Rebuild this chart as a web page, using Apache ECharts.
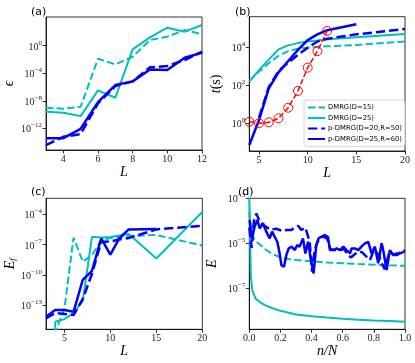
<!DOCTYPE html>
<html>
<head>
<meta charset="utf-8">
<script src="https://cdn.jsdelivr.net/npm/echarts@6.0.0/dist/echarts.min.js"></script>
<style>
  html, body { margin: 0; padding: 0; background: #fff; }
  #chart { width: 415px; height: 363px; }
</style>
</head>
<body>
<div id="chart"></div>
<script>
// ---- (a) error vs L ----
const sizesA = [3, 4, 5, 6, 7, 8, 9, 10, 11, 12]
const epsD15 = [1.0e-9, 6.9e-10, 1.35e-9, 1.29e-2, 1.95e-3, 2.5e-2, 6.8, 20.4, 190, 46]
const epsD25 = [2.5e-10, 1.8e-10, 5.9e-11, 3.2e-7, 2.75e-8, 0.295, 16.6, 417, 110, 1020]
const epsP20 = [3.6e-15, 5.9e-14, 1.45e-13, 4.2e-9, 1.38e-6, 6.6e-6, 7.2e-4, 1.12e-3, 8.3e-3, 0.135]
const epsP25 = [3.7e-14, 3.7e-14, 8.5e-13, 6.5e-9, 1.9e-6, 6.6e-6, 3.6e-4, 2.95e-4, 1.8e-2, 9.5e-2]

// ---- (b) time vs L ----
const sizesB = [4, 5, 6, 7, 8, 9, 10, 11, 12, 15, 20]
const tD15 = [170, 525, 1445, 3550, 6300, 8500, 9550, 10500, 11200, 13200, 20000]
const tD25 = [155, 630, 2240, 7760, 12600, 16600, 20000, 22900, 26300, 33900, 50100]
const sizesP20 = [5, 6, 7, 8, 9, 10, 11, 12, 15, 20]
const tP20 = [2.0, 79, 560, 1580, 3980, 9550, 20000, 28200, 47900, 91200]
const sizesP25 = [4, 5, 6, 7, 8, 9, 10, 11, 12, 15]
const tP25 = [0.072, 1.48, 69, 479, 1905, 7240, 24000, 47900, 79400, 162000]
const sizesRed = [4, 5, 6, 7, 8, 9, 10, 11, 12]
const tRed = [1.2, 1.0, 1.12, 1.82, 6.6, 50, 850, 6300, 72400]

// ---- (c) fidelity error vs L ----
const sizesC = [3, 4, 5, 6, 7, 8, 9, 10, 11, 12, 15, 20]
const efD15 = [0, 2e-16, 4.0e-14, 5.0e-7, 2.0e-9, 8.9e-9, 2.5e-7, 4.5e-7, 5.6e-7, 7.1e-7, 8.9e-7, 7.9e-8]
const efD25 = [0, 2.2e-15, 4.0e-15, 1.6e-14, 2.5e-13, 5.8e-7, 5.0e-7, 5.6e-7, 7.9e-7, 1.12e-6, 4.1e-9, 1.7e-4]
const efP20 = [4.7e-15, 1.6e-14, 1.26e-14, 1.0e-14, 4.0e-13, 1.26e-10, 1.8e-7, 2.0e-7, 3.2e-7, 4.5e-7, 3.2e-6, 7.1e-6]
const sizesCP25 = [3, 4, 5, 6, 7, 8, 9, 10, 11, 12, 15]
const efP25 = [6.8e-15, 3.2e-14, 3.2e-14, 2.1e-14, 3.2e-11, 2.5e-10, 4.0e-7, 1.0e-8, 4.5e-7, 3.2e-6, 3.5e-6]

// ---- (d) E vs n/N ----
const nD25 = [0, 0.01, 0.02, 0.04, 0.07, 0.1, 0.15, 0.2, 0.3, 0.4, 0.5, 0.6, 0.7, 0.8, 0.9, 1.0]
const eD25 = [1.6e-3, 3.2e-7, 7.9e-8, 3.5e-8, 2.4e-8, 1.8e-8, 1.3e-8, 1.0e-8, 6.9e-9, 5.8e-9, 5.0e-9, 4.4e-9, 4.0e-9, 3.7e-9, 3.5e-9, 3.3e-9]
const nD15 = [0, 0.01, 0.03, 0.05, 0.1, 0.15, 0.2, 0.25, 0.3, 0.4, 0.5, 0.6, 0.7, 0.8, 0.9, 1.0]
const eD15 = [2.5e-4, 4.0e-5, 1.6e-5, 1.12e-5, 5.6e-6, 3.3e-6, 2.4e-6, 2.0e-6, 1.8e-6, 1.6e-6, 1.4e-6, 1.3e-6, 1.2e-6, 1.12e-6, 1.05e-6, 1.0e-6]
const nP25 = [0.002, 0.017, 0.034, 0.052, 0.067, 0.088, 0.109, 0.131, 0.146, 0.163, 0.18, 0.195, 0.206, 0.223, 0.238, 0.253, 0.274, 0.291, 0.308, 0.323, 0.345, 0.36, 0.377, 0.398, 0.413, 0.43, 0.445, 0.462, 0.484, 0.505, 0.518, 0.54, 0.561, 0.582, 0.604, 0.625, 0.647, 0.657, 0.678, 0.70, 0.72, 0.743, 0.764, 0.785, 0.807, 0.828, 0.85, 0.86, 0.882, 0.903, 0.925, 0.946, 0.968, 0.996]
const eP25 = [1.1e-4, 1.66e-5, 5.5e-5, 1.1e-4, 4.6e-5, 7.8e-5, 3.3e-5, 1.66e-5, 3.3e-5, 1.95e-5, 1.17e-5, 3.5e-6, 1.07e-6, 9.1e-7, 3.0e-6, 6.0e-6, 7.1e-6, 5.0e-6, 8.3e-6, 7.1e-6, 1.66e-5, 3.5e-6, 1.17e-5, 1.5e-6, 4.6e-7, 8.3e-6, 1.66e-5, 1.95e-5, 2.3e-5, 1.95e-5, 5.0e-6, 5.0e-6, 5.9e-6, 5.0e-6, 7.1e-6, 5.0e-6, 3.6e-6, 5.9e-6, 5.9e-6, 5.0e-6, 7.1e-6, 1.0e-5, 1.17e-5, 3.6e-6, 7.1e-6, 1.3e-6, 1.0e-5, 5.0e-6, 6.5e-7, 5.0e-6, 3.0e-6, 3.0e-6, 3.6e-6, 4.3e-6]
const nP20 = [0.0, 0.015, 0.03, 0.045, 0.065, 0.088, 0.115, 0.141, 0.17, 0.195, 0.22, 0.238, 0.27, 0.29, 0.313, 0.334, 0.36, 0.388, 0.403, 0.42, 0.44, 0.46, 0.48, 0.50, 0.52, 0.55, 0.58, 0.61, 0.635, 0.655, 0.675, 0.70, 0.725, 0.754, 0.775, 0.80, 0.83, 0.85, 0.87, 0.90, 0.925, 0.95, 0.975, 1.0]
const eP20 = [5.0e-5, 6.3e-6, 1.0e-4, 2.1e-4, 1.0e-4, 6.5e-5, 5.0e-5, 3.9e-5, 4.5e-5, 3.9e-5, 3.5e-5, 3.9e-5, 3.9e-5, 5.0e-5, 6.0e-5, 3.9e-5, 5.0e-5, 1.17e-5, 5.5e-7, 5.0e-6, 1.26e-5, 1.6e-5, 2.0e-5, 1.6e-5, 5.6e-6, 5.0e-6, 5.0e-6, 5.6e-6, 2.8e-6, 2.4e-6, 3.2e-6, 4.3e-6, 4.0e-6, 2.5e-6, 1.8e-6, 5.0e-6, 3.2e-6, 1.3e-6, 7.1e-7, 4.0e-6, 3.2e-6, 3.5e-6, 4.0e-6, 5.0e-6]

const names = ['DMRG(D=15)', 'DMRG(D=25)', 'p-DMRG(D=20,R=50)', 'p-DMRG(D=25,R=60)']
const CYAN = '#00bfbf'
const BLUE = '#0000ff'
const RED = '#ff0000'

// log axes are drawn as value axes over log10, zero is clipped far below like matplotlib does
const lg = v => (v > 0 ? Math.log10(v) : -300)
const sup = v => (v < 0 ? '\u2212' + (-v) : String(v))

const chart = echarts.init(document.getElementById('chart'), null, { renderer: 'canvas' })

const grids = [
  { left: 46, top: 17, width: 156, height: 133 },
  { left: 249.3, top: 16.7, width: 155.7, height: 134.3 },
  { left: 46, top: 198.3, width: 156.3, height: 131 },
  { left: 249.3, top: 198.3, width: 155.7, height: 131 }
].map(g => ({ ...g, show: true, borderColor: '#000', borderWidth: 0.8, backgroundColor: 'transparent' }))

const tickFont = { fontFamily: 'Liberation Serif', fontSize: 10, color: '#222' }
const nameFont = { fontFamily: 'Liberation Serif', fontStyle: 'italic', fontSize: 14, color: '#000' }

function xAxis(idx, min, max, ticks, fmt, name, gap) {
  return {
    type: 'value', gridIndex: idx, min, max,
    name, nameLocation: 'middle', nameGap: gap, nameTextStyle: nameFont,
    splitLine: { show: false },
    axisLine: { show: true, onZero: false, lineStyle: { color: '#000', width: 0.8 } },
    axisTick: { show: true, length: 3.5, customValues: ticks, lineStyle: { color: '#000', width: 0.8 } },
    axisLabel: { ...tickFont, margin: 4, customValues: ticks, formatter: fmt }
  }
}

function yAxis(idx, min, max, ticks, name, gap, rich) {
  return {
    type: 'value', gridIndex: idx, min, max,
    name, nameLocation: 'middle', nameGap: gap,
    nameTextStyle: rich ? { ...nameFont, rich } : nameFont,
    splitLine: { show: false },
    axisLine: { show: true, onZero: false, lineStyle: { color: '#000', width: 0.8 } },
    axisTick: { show: true, length: 3.5, customValues: ticks, lineStyle: { color: '#000', width: 0.8 } },
    axisLabel: {
      margin: 4,
      customValues: ticks,
      formatter: v => '{b|10}{s|' + sup(v) + '}',
      rich: {
        b: { fontFamily: 'Liberation Serif', fontSize: 10, color: '#222', lineHeight: 13, verticalAlign: 'bottom' },
        s: { fontFamily: 'Liberation Serif', fontSize: 7, color: '#222', verticalAlign: 'top' }
      }
    }
  }
}

function line(name, idx, xs, ys, color, dashed, width) {
  return {
    name, type: 'line', xAxisIndex: idx, yAxisIndex: idx,
    data: xs.map((x, i) => [x, lg(ys[i])]),
    symbol: 'none', clip: true, animation: false,
    lineStyle: { color, width, type: dashed ? [width * 3.7, width * 1.6] : 'solid' },
    itemStyle: { color },
    emphasis: { disabled: true }
  }
}

function quad(idx, s15, s25, s20, s25b) {
  return [
    line(names[0], idx, s15[0], s15[1], CYAN, true, 2),
    line(names[1], idx, s25[0], s25[1], CYAN, false, 2),
    line(names[2], idx, s20[0], s20[1], BLUE, true, 2.5),
    line(names[3], idx, s25b[0], s25b[1], BLUE, false, 2.5)
  ]
}

const intFmt = v => String(v)
const upright = { fontFamily: 'Liberation Serif', fontStyle: 'normal', fontSize: 14 }
const italic = { fontFamily: 'Liberation Serif', fontStyle: 'italic', fontSize: 14 }

const option = {
  animation: false,
  title: [
    { text: '(a)', left: 26, top: 2 },
    { text: '(b)', left: 230, top: 2 },
    { text: '(c)', left: 26, top: 182 },
    { text: '(d)', left: 233, top: 182 }
  ].map(t => ({ ...t, textStyle: { fontFamily: 'DejaVu Sans', fontSize: 11, fontWeight: 'normal', color: '#000' } })),
  grid: grids,
  legend: {
    data: names,
    orient: 'vertical',
    right: 10, top: 100,
    itemWidth: 17, itemHeight: 8, itemGap: 3.5,
    padding: [4, 3, 4, 3],
    backgroundColor: 'rgba(255,255,255,0.8)',
    borderColor: '#ccc', borderWidth: 0.8, borderRadius: 3,
    itemStyle: { opacity: 0 },
    selectedMode: false,
    textStyle: { fontFamily: 'DejaVu Sans', fontSize: 6.8, color: '#000', padding: [0, 0, 0, -2] }
  },
  xAxis: [
    xAxis(0, 3, 12, [4, 6, 8, 10, 12], intFmt, 'L', 15),
    xAxis(1, 4, 20, [5, 10, 15, 20], intFmt, 'L', 15),
    xAxis(2, 3, 20, [5, 10, 15, 20], intFmt, 'L', 15),
    xAxis(3, 0, 1, [0, 0.2, 0.4, 0.6, 0.8, 1.0], v => v.toFixed(1), 'n/N', 15)
  ],
  // ranges in decades (log10)
  yAxis: [
    yAxis(0, -15.15, 4.17, [-12, -8, -4, 0], '\u03f5', 30),
    yAxis(1, -1.46, 5.61, [0, 2, 4], '{i|t}{u|(s)}', 26, { i: italic, u: upright }),
    yAxis(2, -15.41, -2.41, [-13, -10, -7, -4], '{i|E}{f|f}', 29,
      { i: italic, f: { fontFamily: 'Liberation Serif', fontStyle: 'italic', fontSize: 9, verticalAlign: 'bottom' } }),
    yAxis(3, -8.82, -3, [-7, -5, -3], 'E', 30)
  ],
  series: [
    ...quad(0, [sizesA, epsD15], [sizesA, epsD25], [sizesA, epsP20], [sizesA, epsP25]),
    ...quad(1, [sizesB, tD15], [sizesB, tD25], [sizesP20, tP20], [sizesP25, tP25]),
    {
      name: 'serial', type: 'line', xAxisIndex: 1, yAxisIndex: 1,
      data: sizesRed.map((x, i) => [x, lg(tRed[i])]),
      symbol: 'circle', symbolSize: 9, showSymbol: true, clip: true,
      lineStyle: { color: RED, width: 1.5, type: [5.5, 2.4] },
      itemStyle: { color: 'rgba(0,0,0,0)', borderColor: RED, borderWidth: 1 },
      emphasis: { disabled: true }, z: 3
    },
    ...quad(2, [sizesC, efD15], [sizesC, efD25], [sizesC, efP20], [sizesCP25, efP25]),
    ...quad(3, [nD15, eD15], [nD25, eD25], [nP20, eP20], [nP25, eP25])
  ]
}

chart.setOption(option)
</script>
</body>
</html>
